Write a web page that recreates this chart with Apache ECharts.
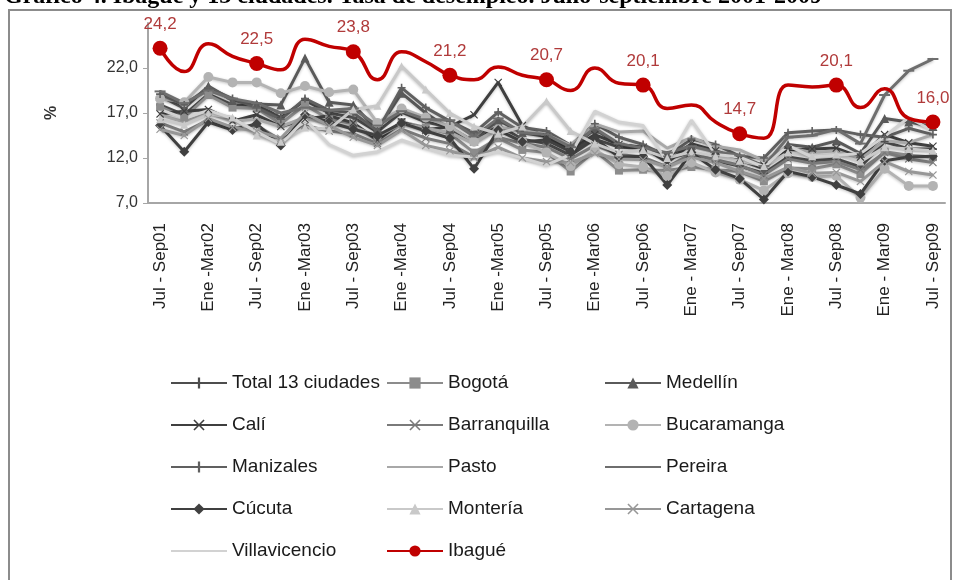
<!DOCTYPE html>
<html>
<head>
<meta charset="utf-8">
<script src="https://cdn.jsdelivr.net/npm/echarts@6/dist/echarts.min.js"></script>
<style>
  html, body { margin: 0; padding: 0; background: #fff; }
  #chart { width: 959px; height: 580px; }
</style>
</head>
<body>
<div id="chart"></div>
<script>
// trimestres moviles
var categories = ['Jul - Sep01','Oct - Dic01','Ene -Mar02','Abr - Jun02','Jul - Sep02','Oct - Dic02','Ene -Mar03','Abr - Jun03',
  'Jul - Sep03','Oct - Dic03','Ene -Mar04','Abr - Jun04','Jul - Sep04','Oct - Dic04','Ene -Mar05','Abr - Jun05',
  'Jul - Sep05','Oct - Dic05','Ene -Mar06','Abr - Jun06','Jul - Sep06','Oct - Dic06','Ene - Mar07','Abr - Jun07',
  'Jul - Sep07','Oct - Dic07','Ene - Mar08','Abr - Jun08','Jul - Sep08','Oct - Dic08','Ene - Mar09','Abr - Jun09','Jul - Sep09'];

var total13 = [17.9,16.8,19.1,17.9,17.9,16.5,18.4,17.0,16.5,14.9,17.1,16.0,15.4,13.8,15.6,14.1,13.6,12.3,14.1,13.2,13.1,11.9,12.6,11.7,11.1,10.3,12.1,11.7,11.9,11.0,13.8,13.0,13.0];
var bogota = [17.7,16.5,19.0,17.6,17.5,15.8,17.9,16.3,15.8,13.9,16.0,15.4,14.7,12.6,14.2,12.9,12.6,10.5,12.8,10.6,10.7,10.6,11.0,10.7,10.5,9.4,10.9,10.8,11.3,10.2,12.7,12.3,12.1];
var medellin = [18.9,17.5,20.0,18.4,18.0,17.9,23.1,18.2,17.9,15.1,19.2,17.0,15.2,13.9,16.2,14.8,14.4,13.1,15.2,13.5,13.1,12.3,13.4,12.8,11.8,10.8,13.5,13.2,13.9,12.5,16.4,16.0,15.5];
var cali = [16.9,17.2,17.4,16.1,16.8,15.5,16.3,16.7,15.9,14.0,16.0,15.1,15.5,16.8,20.4,15.6,14.3,12.9,14.6,13.5,13.2,11.5,13.6,12.8,11.9,11.2,12.9,13.0,13.1,12.1,14.6,13.7,13.3];
var barranquilla = [15.9,14.9,16.2,15.3,15.6,14.0,15.6,15.0,14.7,13.6,15.2,14.2,13.6,12.1,14.3,13.6,13.2,11.9,13.4,12.4,12.1,11.0,12.5,11.8,11.2,10.1,11.9,11.4,11.6,10.7,12.6,11.9,11.5];
var bucaramanga = [18.6,18.2,21.0,20.4,20.4,19.2,20.0,19.3,19.6,15.9,17.5,16.5,15.5,13.8,15.2,13.8,12.6,11.1,12.9,11.3,11.0,10.0,11.5,10.4,9.6,8.4,10.3,9.9,10.0,7.6,10.8,8.9,8.9];
var manizales = [19.1,17.9,19.8,18.6,17.6,16.3,18.6,17.3,17.0,15.0,19.8,17.6,16.1,14.8,17.1,15.4,15.0,13.4,15.8,14.3,13.5,12.2,14.1,13.5,12.2,12.0,14.8,15.0,15.1,14.6,14.3,15.3,14.6];
var pasto = [16.8,16.0,17.0,16.1,16.3,15.5,16.5,15.7,15.5,14.4,15.8,15.3,14.8,13.6,15.4,15.1,14.6,13.4,15.8,14.9,15.0,13.1,14.3,13.3,12.9,11.7,13.2,12.6,12.8,11.9,13.9,13.7,14.6];
var pereira = [19.4,18.1,19.5,18.6,18.1,17.0,17.6,17.3,17.5,15.6,17.2,16.3,16.2,14.4,16.4,14.8,14.6,13.2,15.3,13.6,13.1,12.6,13.3,12.7,12.3,11.1,14.3,14.5,15.2,13.6,19.0,21.7,23.0];
var cucuta = [15.6,12.7,16.0,15.1,15.8,13.4,16.8,16.0,15.2,14.5,15.9,15.0,14.2,10.8,15.1,13.8,14.0,12.7,14.2,12.1,12.2,9.0,12.6,10.7,9.7,7.4,10.5,9.9,9.0,8.0,11.7,12.1,12.2];
var monteria = [16.3,15.7,16.9,16.5,14.5,13.8,15.4,15.2,17.4,17.8,22.2,19.6,17.0,15.5,14.7,15.5,18.3,15.0,13.6,12.6,12.9,12.0,12.7,12.2,11.7,11.1,12.6,12.2,12.4,11.6,13.2,13.0,12.8];
var cartagena = [15.2,14.5,16.4,15.4,15.0,14.2,17.0,15.6,14.3,13.4,15.1,13.4,12.8,12.0,13.2,12.0,11.6,11.5,12.5,11.9,11.8,11.0,12.1,11.5,10.5,9.7,11.0,10.3,10.4,9.4,11.6,10.5,10.1];
var villavicencio = [17.4,16.4,17.3,16.4,14.9,13.5,16.3,13.5,12.3,12.7,14.0,13.1,12.3,12.1,12.7,12.0,11.2,12.4,17.2,16.0,15.6,11.6,16.2,12.4,12.1,11.0,13.4,12.1,12.3,12.5,14.4,16.5,15.0];
var ibague = [24.2,21.6,24.7,23.3,22.5,21.8,25.2,24.4,23.8,20.7,23.8,22.7,21.2,20.7,22.1,21.2,20.7,19.5,22.0,20.3,20.1,17.5,17.9,16.0,14.7,14.2,20.1,19.9,20.1,17.6,19.7,16.4,16.0];

var plus = 'path://M4,0H6V4H10V6H6V10H4V6H0V4H4Z';
var cross = 'path://M1,0L5,4L9,0L10,1L6,5L10,9L9,10L5,6L1,10L0,9L4,5L0,1Z';

var fuente = '"Liberation Sans Narrow", "Liberation Sans", sans-serif';
var sinMarca = ['Pasto', 'Pereira', 'Villavicencio'];

function gris(name, data, color, symbol, size) {
  return {
    name: name,
    type: 'line',
    data: data,
    symbol: symbol,
    symbolSize: size || 7,
    showSymbol: symbol !== 'none',
    itemStyle: { color: color },
    lineStyle: { color: color, width: 3, shadowColor: 'rgba(0,0,0,0.25)', shadowBlur: 3, shadowOffsetY: 1 }
  };
}

function leyenda(left, names) {
  return {
    left: left, top: 373, padding: 0, orient: 'vertical', itemGap: 22, itemWidth: 56, itemHeight: 14,
    textStyle: { fontSize: 19, color: '#1a1a1a', fontFamily: fuente, lineHeight: 20 },
    data: names.map(function (n) {
      return sinMarca.indexOf(n) >= 0 ? { name: n, itemStyle: { opacity: 0 } } : n;
    })
  };
}

var chart = echarts.init(document.getElementById('chart'));
var option = {
  animation: false,
  graphic: [
    {
      type: 'text', left: 4, top: -15,
      style: { text: 'Gráfico 4. Ibagué y 13 ciudades. Tasa de desempleo. Julio-septiembre 2001-2009', font: 'bold 24px "Liberation Serif"', fill: '#000' }
    },
    {
      type: 'rect', shape: { x: 9, y: 10, width: 942, height: 580 },
      style: { fill: 'none', stroke: '#8c8c8c', lineWidth: 2 }, z: -1
    }
  ],
  grid: { left: 148, right: 14, top: 23, bottom: 377 },
  xAxis: {
    type: 'category',
    data: categories,
    boundaryGap: true,
    axisLine: { lineStyle: { color: '#a6a6a6', width: 2 } },
    axisTick: { show: false },
    axisLabel: { interval: 1, rotate: 90, margin: 20, fontSize: 17, color: '#222', fontFamily: fuente }
  },
  yAxis: {
    type: 'value',
    min: 7, max: 27, interval: 5,
    name: '%', nameLocation: 'middle', nameGap: 88, nameRotate: 90,
    nameTextStyle: { fontSize: 16, fontWeight: 'bold', color: '#333' },
    axisLine: { show: true, lineStyle: { color: '#a6a6a6', width: 2 } },
    axisTick: { show: true, length: 5, lineStyle: { color: '#a6a6a6' } },
    splitLine: { show: false },
    axisLabel: {
      showMaxLabel: false, fontSize: 16, color: '#333', margin: 10, fontFamily: fuente,
      formatter: function (v) { return v.toFixed(1).replace('.', ','); }
    }
  },
  legend: [
    leyenda(170, ['Total 13 ciudades', 'Calí', 'Manizales', 'Cúcuta', 'Villavicencio']),
    leyenda(386, ['Bogotá', 'Barranquilla', 'Pasto', 'Montería', 'Ibagué']),
    leyenda(604, ['Medellín', 'Bucaramanga', 'Pereira', 'Cartagena'])
  ],
  series: [
    gris('Total 13 ciudades', total13, '#4d4d4d', plus, 8),
    gris('Bogotá', bogota, '#8c8c8c', 'rect', 8),
    gris('Medellín', medellin, '#5a5a5a', 'triangle', 9),
    gris('Calí', cali, '#3f3f3f', cross, 8),
    gris('Barranquilla', barranquilla, '#7a7a7a', cross, 8),
    gris('Bucaramanga', bucaramanga, '#b3b3b3', 'circle', 10),
    gris('Manizales', manizales, '#606060', plus, 8),
    gris('Pasto', pasto, '#a8a8a8', 'none'),
    gris('Pereira', pereira, '#6e6e6e', 'rect', [11, 2]),
    gris('Cúcuta', cucuta, '#404040', 'diamond', 10),
    gris('Montería', monteria, '#c9c9c9', 'triangle', 8),
    gris('Cartagena', cartagena, '#979797', cross, 8),
    gris('Villavicencio', villavicencio, '#d2d2d2', 'none'),
    {
      name: 'Ibagué',
      type: 'line',
      data: ibague,
      smooth: 0.5,
      z: 5,
      symbol: 'circle',
      symbolSize: function (v, p) { return p.dataIndex % 4 === 0 ? 15 : 0; },
      itemStyle: { color: '#c00000' },
      lineStyle: { color: '#c00000', width: 3.5 },
      label: {
        show: true, position: 'top', distance: 8,
        fontSize: 17, color: '#b03a3a', fontFamily: fuente,
        formatter: function (p) { return p.dataIndex % 4 === 0 ? p.value.toFixed(1).replace('.', ',') : ''; }
      }
    }
  ]
};
chart.setOption(option);
</script>
</body>
</html>
